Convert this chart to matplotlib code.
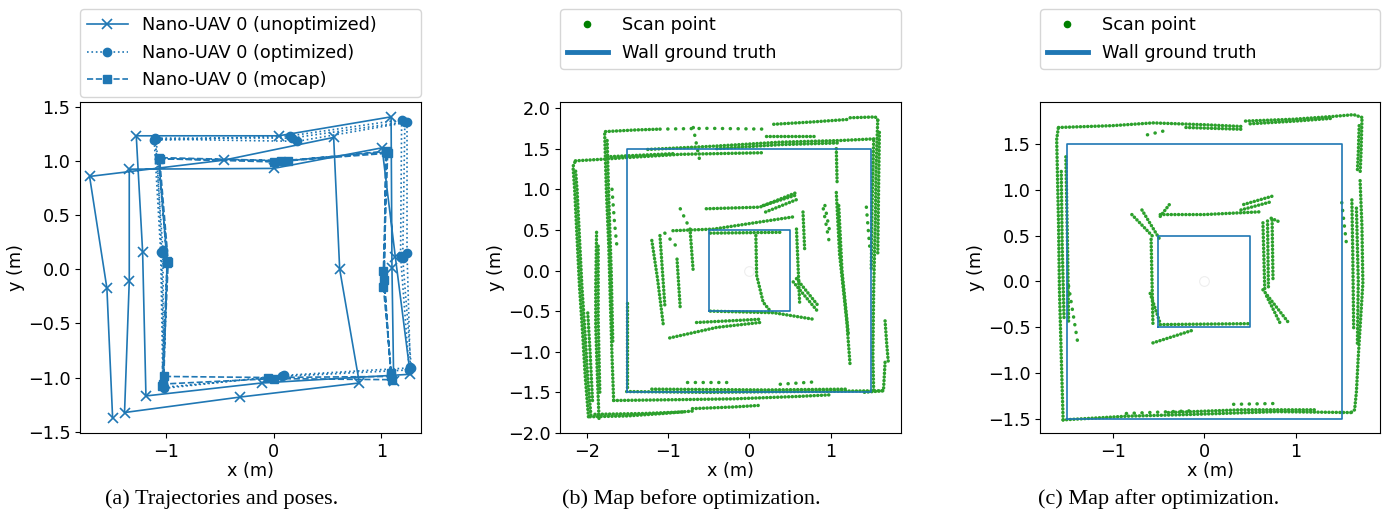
import matplotlib.pyplot as plt
from matplotlib.lines import Line2D

plt.rcParams['font.family'] = 'DejaVu Sans'
plt.rcParams['font.size'] = 12.7

# poses in visiting order, three laps around the 2 m square (m)
unopt_x = [1.116, 1.100, 1.092, 0.047, -1.277, -1.218, -1.187, -0.108, 1.270, 1.132, 1.008, 0.000,
           -1.342, -1.342, -1.386, -0.310, 0.797, 0.614, 0.558, -0.465, -1.711, -1.550, -1.497]
unopt_y = [-1.030, 0.015, 1.406, 1.231, 1.231, 0.163, -1.170, -1.050, -0.970, 0.108, 1.120, 0.930,
           0.923, -0.108, -1.323, -1.180, -1.050, 0.000, 1.216, 1.006, 0.856, -0.175, -1.370]
opt_x = [1.27, 1.24, 1.24, 0.22, -1.09, -1.04, -1.02, 0.10, 1.28, 1.20, 1.22, 0.17,
         -1.10, -1.03, -1.02, 0.08, 1.26, 1.18, 1.19, 0.15, -1.11, -1.05, -1.03]
opt_y = [-0.90, 0.15, 1.355, 1.18, 1.20, 0.15, -1.10, -0.98, -0.91, 0.10, 1.36, 1.21,
         1.21, 0.18, -1.09, -0.99, -0.93, 0.12, 1.38, 1.23, 1.19, 0.16, -1.06]
mocap_x = [1.09, 1.02, 1.05, 0.13, -1.07, -0.99, -1.02, -0.05, 1.09, 1.03, 1.04, 0.07,
           -1.06, -0.98, -1.03, 0.00, 1.10, 1.02, 1.06, 0.00, -1.07, -0.99, -1.04]
mocap_y = [-0.96, -0.02, 1.09, 1.00, 1.03, 0.08, -0.99, -1.00, -0.99, -0.10, 1.08, 1.00,
           1.02, 0.07, -1.06, -1.01, -1.02, -0.16, 1.07, 0.99, 1.02, 0.06, -1.08]

# wall ground truth: outer and inner square (m)
outer_x = [-1.5, 1.5, 1.5, -1.5, -1.5]
outer_y = [-1.5, -1.5, 1.5, 1.5, -1.5]
inner_x = [-0.5, 0.5, 0.5, -0.5, -0.5]
inner_y = [-0.5, -0.5, 0.5, 0.5, -0.5]

# scan point streaks before optimization (m)
scan_before = [
    [(-1.98, -1.80), (-2.02, -1.30), (-2.05, -0.80), (-2.09, -0.20), (-2.12, 0.40), (-2.15, 1.00), (-2.17, 1.28), (-2.14, 1.35)],
    [(-1.95, -1.78), (-1.99, -1.30), (-2.02, -0.80), (-2.06, -0.20), (-2.09, 0.40), (-2.12, 1.00), (-2.14, 1.25)],
    [(-1.93, -1.60), (-1.96, -1.00), (-1.99, -0.50)],
    [(-1.88, 0.47), (-1.89, -0.20), (-1.89, -0.70), (-1.87, -1.30), (-1.85, -1.82)],
    [(-1.86, 0.30), (-1.86, -0.60), (-1.84, -1.50)],
    [(-1.78, 1.68), (-1.76, 1.00), (-1.73, 0.30), (-1.71, -0.40), (-1.69, -1.05), (-1.67, -1.60)],
    [(-1.75, 1.60), (-1.73, 0.90), (-1.70, 0.00), (-1.68, -0.90)],
    [(-1.51, -0.40), (-1.51, -0.90), (-1.51, -1.47)],
    [(-2.14, 1.35), (-1.80, 1.37), (-1.50, 1.39), (-0.85, 1.43), (0.19, 1.45)],
    [(-1.75, 1.40), (-0.90, 1.44)],
    [(-1.77, 1.71), (-1.40, 1.73), (-1.10, 1.74)],
    [(-1.25, 1.49), (-0.44, 1.53), (0.38, 1.58), (1.12, 1.60), (1.53, 1.62)],
    [(-0.40, 1.50), (0.40, 1.55), (1.10, 1.57)],
    [(0.30, 1.80), (0.80, 1.83), (1.22, 1.86)],
    [(1.24, 1.88), (1.55, 1.89), (1.58, 1.85)],
    [(0.21, 1.66), (0.79, 1.66)],
    [(1.58, 1.85), (1.56, 1.30), (1.55, 0.60), (1.53, -0.20), (1.52, -1.05), (1.53, -1.50)],
    [(1.53, 1.60), (1.51, 0.80), (1.50, 0.00)],
    [(1.60, 1.70), (1.59, 1.00), (1.58, 0.20)],
    [(1.67, -0.62), (1.69, -0.90), (1.71, -1.13)],
    [(1.07, 1.50), (1.08, 1.07)],
    [(1.07, 0.96), (1.11, 0.20), (1.20, -0.64), (1.24, -1.17)],
    [(1.10, 0.80), (1.14, 0.00), (1.22, -0.80)],
    [(1.67, -1.13), (1.65, -1.48), (1.40, -1.50)],
    [(-1.96, -1.80), (-1.50, -1.79), (-1.06, -1.76), (-0.70, -1.73)],
    [(-1.90, -1.77), (-1.30, -1.76), (-0.80, -1.74)],
    [(-0.70, -1.70), (-0.20, -1.68), (0.13, -1.66)],
    [(-1.67, -1.60), (-0.90, -1.59), (-0.20, -1.58), (0.60, -1.55), (1.00, -1.53)],
    [(-1.51, -1.49), (-0.50, -1.50), (0.50, -1.49), (1.65, -1.48)],
    [(-1.20, -1.46), (0.20, -1.47), (1.20, -1.46)],
    [(-0.53, 0.76), (0.13, 0.78), (0.58, 0.96)],
    [(0.17, 0.80), (0.58, 0.93)],
    [(0.20, 0.72), (0.60, 0.88)],
    [(-0.94, 0.49), (-0.44, 0.51), (0.54, 0.66)],
    [(-0.48, 0.46), (0.38, 0.47)],
    [(-0.98, -0.83), (-0.40, -0.70), (0.13, -0.64)],
    [(-0.65, -0.64), (0.13, -0.60)],
    [(-0.48, -0.50), (0.30, -0.52), (0.79, -0.60)],
    [(0.08, 0.43), (0.09, -0.06), (0.17, -0.39), (0.25, -0.49)],
    [(-1.20, 0.37), (-1.13, -0.10), (-1.06, -0.66)],
    [(-1.10, 0.43), (-1.04, -0.43)],
    [(-0.89, 0.14), (-0.85, -0.47)],
    [(-0.73, 0.51), (-0.69, -0.02)],
    [(0.58, 0.51), (0.62, -0.43)],
    [(0.66, 0.72), (0.68, 0.27)],
    [(0.54, -0.14), (0.83, -0.49)],
    [(0.58, -0.10), (0.86, -0.45)],
]
scan_before_sparse = [
    [(-1.69, 1.00), (-1.66, 0.60), (-1.63, 0.30)],
    [(-1.10, 1.74), (-0.50, 1.75), (0.21, 1.74)],
    [(-0.69, 1.76), (-0.65, 1.55), (-0.61, 1.35)],
    [(0.93, 0.80), (0.99, 0.47)],
    [(1.44, 0.78), (1.48, 0.30)],
    [(-0.77, -1.37), (-0.28, -1.37)],
    [(0.38, -1.40), (0.82, -1.37)],
    [(0.91, 0.76), (0.99, 0.31)],
    [(-0.85, 0.76), (-0.75, 0.55)],
    [(-1.04, 0.46), (-0.90, 0.30)],
]

# scan point streaks after optimization (m)
scan_after = [
    [(-1.59, 1.68), (-1.00, 1.70), (-0.56, 1.73), (0.00, 1.71), (0.43, 1.69)],
    [(0.45, 1.75), (0.97, 1.77), (1.40, 1.80), (1.63, 1.82), (1.72, 1.79)],
    [(0.50, 1.72), (1.00, 1.75), (1.40, 1.78)],
    [(-0.20, 1.68), (0.42, 1.66)],
    [(1.72, 1.76), (1.71, 1.40), (1.70, 1.18)],
    [(1.69, 1.70), (1.68, 1.40), (1.67, 1.20)],
    [(1.70, 1.10), (1.72, 0.60), (1.73, -0.02), (1.70, -0.50), (1.68, -0.82), (1.66, -1.20), (1.64, -1.40), (1.60, -1.43)],
    [(1.61, 0.89), (1.62, 0.30), (1.63, -0.53)],
    [(1.66, 0.80), (1.68, 0.00), (1.67, -0.70)],
    [(1.60, -1.43), (0.79, -1.42), (-0.12, -1.45), (-0.85, -1.47), (-1.54, -1.51)],
    [(1.20, -1.40), (0.40, -1.40), (-0.40, -1.43)],
    [(-1.54, -1.51), (-1.56, -0.82), (-1.58, -0.09), (-1.59, 0.64), (-1.61, 1.55), (-1.59, 1.69)],
    [(-1.51, 1.36), (-1.49, 0.30), (-1.48, -0.45)],
    [(-1.56, 1.20), (-1.55, 0.40), (-1.53, -0.40)],
    [(-0.48, 0.73), (0.00, 0.73), (0.61, 0.76)],
    [(0.43, 0.84), (0.74, 0.93)],
    [(0.40, 0.78), (0.73, 0.87)],
    [(-0.48, 0.71), (-0.38, 0.84)],
    [(-0.79, 0.73), (-0.56, 0.49)],
    [(-0.68, 0.78), (-0.48, 0.45)],
    [(-0.58, 0.46), (-0.56, -0.46)],
    [(-0.59, -0.13), (-0.48, -0.46)],
    [(-0.48, -0.47), (0.50, -0.46)],
    [(-0.56, -0.67), (-0.12, -0.53)],
    [(0.64, 0.64), (0.66, -0.09)],
    [(0.69, 0.66), (0.70, -0.08)],
    [(0.74, 0.67), (0.75, 0.00)],
    [(0.73, 0.69), (0.82, 0.65)],
    [(0.64, -0.09), (0.92, -0.45)],
    [(0.68, -0.16), (0.83, -0.46)],
]
scan_after_sparse = [
    [(-0.62, 1.60), (-0.45, 1.64)],
    [(1.50, 0.86), (1.55, 0.42)],
    [(-0.85, -1.44), (-0.12, -1.41)],
    [(0.32, -1.34), (0.83, -1.33)],
    [(-1.48, -0.05), (-1.38, -0.67)],
]

captions = ['(a) Trajectories and poses.', '(b) Map before optimization.', '(c) Map after optimization.']

W, H = 1382, 515
fig = plt.figure(figsize=(W / 100, H / 100), dpi=100)


def px_axes(left, top, right, bottom):
    return fig.add_axes([left / W, 1 - bottom / H, (right - left) / W, (bottom - top) / H])


ax_a = px_axes(80, 102, 421, 433)
ax_b = px_axes(560, 102, 901, 433)
ax_c = px_axes(1040, 102, 1380, 433)

# (a) trajectories
ax_a.plot(unopt_x, unopt_y, '-x', color='C0', lw=1.2, ms=7, mew=1.2, label='Nano-UAV 0 (unoptimized)')
ax_a.plot(opt_x, opt_y, ':o', color='C0', lw=1.2, ms=6, label='Nano-UAV 0 (optimized)')
ax_a.plot(mocap_x, mocap_y, '--s', color='C0', lw=1.2, ms=6, label='Nano-UAV 0 (mocap)')
ax_a.set_xlim(-1.80, 1.37)
ax_a.set_ylim(-1.512, 1.543)
ax_a.set_xticks([-1, 0, 1])
ax_a.set_yticks([-1.5, -1.0, -0.5, 0.0, 0.5, 1.0, 1.5])
ax_a.legend(loc='upper left', bbox_to_anchor=(80 / W, 1 - 9 / H, 341 / W, 0),
            bbox_transform=fig.transFigure, mode='expand', borderaxespad=0,
            handlelength=2.3, labelspacing=0.55)


def draw_map(ax, streaks, sparse):
    for s in streaks:
        xs = [p[0] for p in s]
        ys = [p[1] for p in s]
        ax.plot(xs, ys, color='#2ca02c', lw=2.5, ls=(0, (0.05, 1.0)), dash_capstyle='round')
    for s in sparse:
        xs = [p[0] for p in s]
        ys = [p[1] for p in s]
        ax.plot(xs, ys, color='#2ca02c', lw=2.5, ls=(0, (0.05, 2.2)), dash_capstyle='round')
    ax.plot(outer_x, outer_y, color='C0', lw=1.2)
    ax.plot(inner_x, inner_y, color='C0', lw=1.2)
    ax.plot([0], [0], 'o', mfc='none', mec='#eeeeee', ms=7, mew=0.8)
    handles = [Line2D([], [], ls='none', marker='o', color='green', ms=4.5),
               Line2D([], [], color='C0', lw=3.5)]
    pos = ax.get_position()
    ax.legend(handles, ['Scan point', 'Wall ground truth'], loc='upper left',
              bbox_to_anchor=(pos.x0, 1 - 9 / H, pos.width, 0), bbox_transform=fig.transFigure,
              mode='expand', borderaxespad=0, handlelength=2.3, labelspacing=0.55)


draw_map(ax_b, scan_before, scan_before_sparse)
ax_b.set_xlim(-2.33, 1.866)
ax_b.set_ylim(-2.0, 2.074)
ax_b.set_xticks([-2, -1, 0, 1])
ax_b.set_yticks([-2.0, -1.5, -1.0, -0.5, 0.0, 0.5, 1.0, 1.5, 2.0])

draw_map(ax_c, scan_after, scan_after_sparse)
ax_c.set_xlim(-1.792, 1.917)
ax_c.set_ylim(-1.653, 1.958)
ax_c.set_xticks([-1, 0, 1])
ax_c.set_yticks([-1.5, -1.0, -0.5, 0.0, 0.5, 1.0, 1.5])

for ax in (ax_a, ax_b, ax_c):
    ax.set_xlabel('x (m)', labelpad=1)
    ax.set_ylabel('y (m)', labelpad=2)

for cx, cap in zip([222, 691, 1159], captions):
    fig.text(cx / W, 1 - 499 / H, cap, ha='center', va='center',
             family='Liberation Serif', fontsize=16)

fig.savefig('out.png', dpi=100)
